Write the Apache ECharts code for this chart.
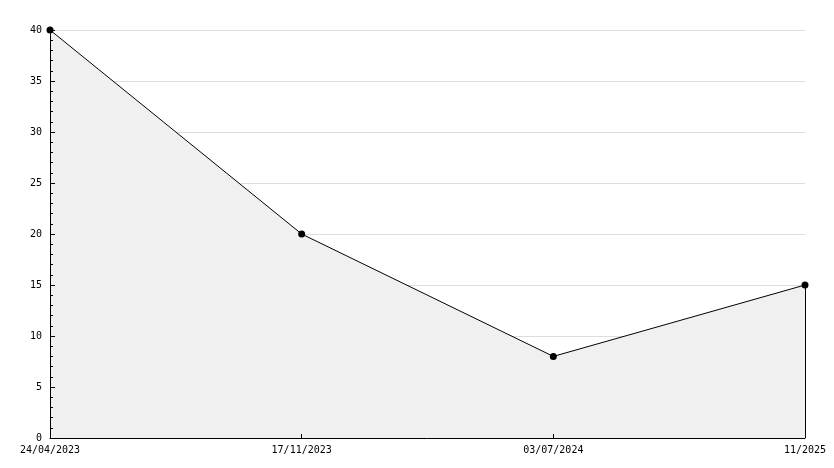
<!DOCTYPE html>
<html><head><meta charset="utf-8">
<script src="https://cdn.jsdelivr.net/npm/echarts@6/dist/echarts.min.js"></script>
<style>html,body{margin:0;padding:0;background:#fff}#c{width:834px;height:468px}</style>
</head><body><div id="c"></div>
<script>
const categories = ['24/04/2023', '17/11/2023', '03/07/2024', '11/2025'];
const values = [40, 20, 8, 15];
const yTicks = [0, 5, 10, 15, 20, 25, 30, 35, 40];

const font = 'DejaVu Sans Mono';
const chart = echarts.init(document.getElementById('c'), null, {renderer: 'canvas'});
const lastIdx = categories.length - 1;
const yMin = yTicks[0], yMax = yTicks[yTicks.length - 1];
chart.setOption({
  animation: false,
  backgroundColor: '#fff',
  grid: {left: 50, right: 29, top: 30, bottom: 30, containLabel: false},
  xAxis: {
    type: 'category', data: categories, boundaryGap: false, z: 10,
    axisLine: {lineStyle: {color: '#000', width: 1}},
    axisTick: {show: true, inside: true, length: 4, lineStyle: {color: '#000'}},
    axisLabel: {color: '#000', fontFamily: font, fontSize: 10, margin: 7, interval: 0},
    splitLine: {show: false}
  },
  yAxis: [{
    type: 'value', min: yMin, max: yMax, interval: 5, z: 0,
    axisLine: {show: false}, axisTick: {show: false}, axisLabel: {show: false},
    splitLine: {show: true, lineStyle: {color: '#dddddd', width: 1}}
  }, {
    type: 'value', min: yMin, max: yMax, interval: 5, z: 10, position: 'left',
    axisLine: {show: true, lineStyle: {color: '#000', width: 1}},
    axisTick: {show: true, inside: true, length: 5, lineStyle: {color: '#000'}},
    minorTick: {show: true, splitNumber: 5, length: 3, lineStyle: {color: '#000'}},
    axisLabel: {color: '#000', fontFamily: font, fontSize: 10, margin: 8},
    splitLine: {show: false}
  }],
  series: [{
    type: 'line', data: values, yAxisIndex: 0,
    symbol: 'circle', symbolSize: 7,
    itemStyle: {color: '#000'},
    lineStyle: {color: '#000', width: 1},
    areaStyle: {color: '#f0f0f0', opacity: 1},
    markLine: {
      silent: true, symbol: ['none', 'none'], label: {show: false},
      lineStyle: {color: '#000', width: 1, type: 'solid'},
      data: [[{coord: [lastIdx, 0]}, {coord: [lastIdx, values[lastIdx]]}]]
    }
  }]
});
</script></body></html>
